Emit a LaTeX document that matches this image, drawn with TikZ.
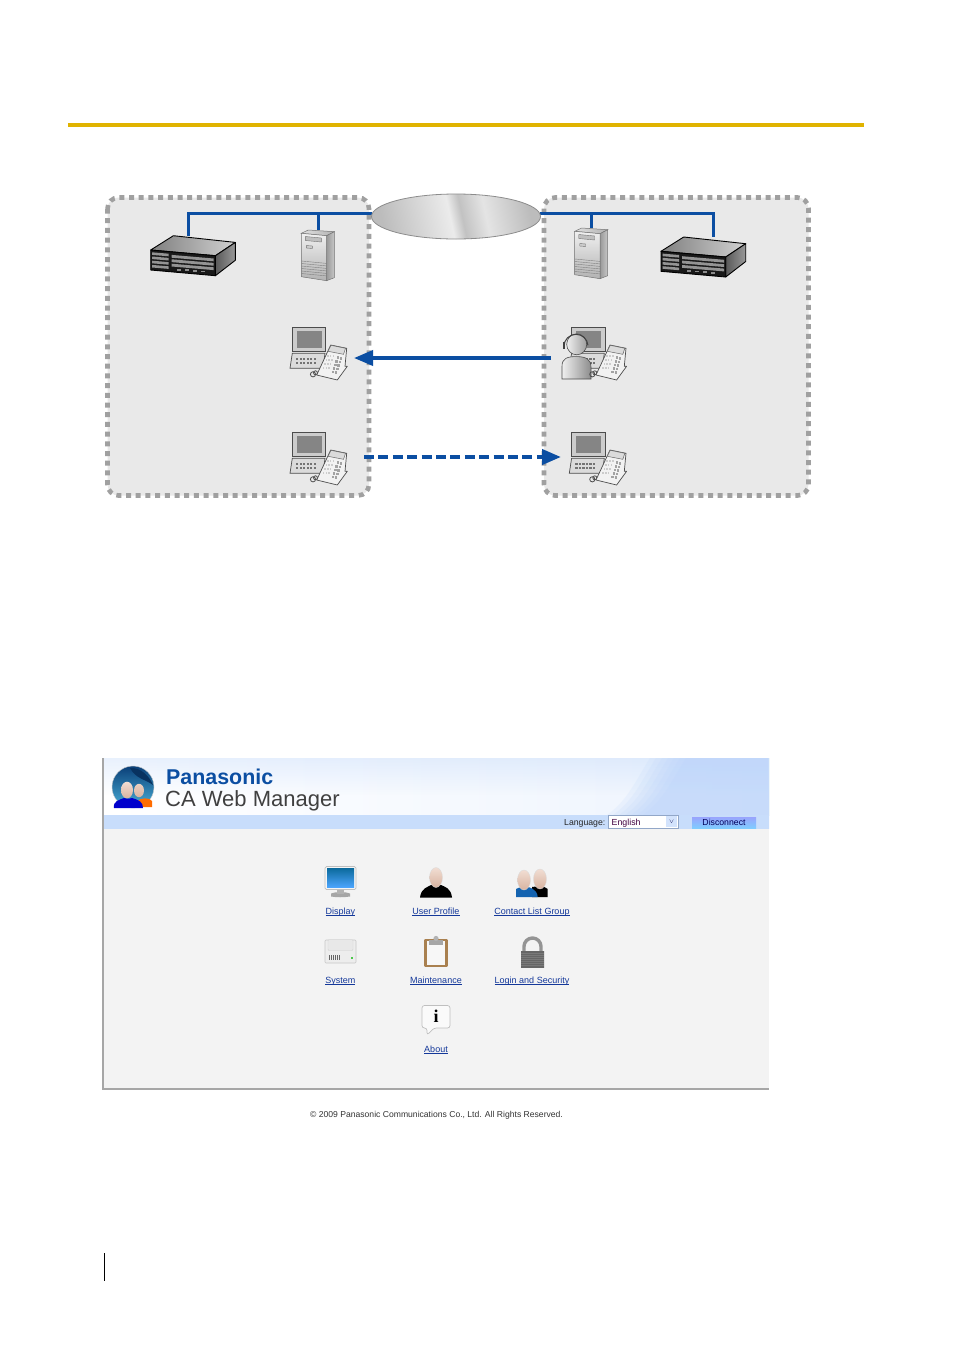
\documentclass[tikz,border=0pt]{standalone}
\usepackage{fontspec}
\setmainfont{Liberation Sans}
\newfontfamily\serifi{Liberation Serif}
\usetikzlibrary{arrows.meta,shapes.geometric,fadings}
\definecolor{gold}{HTML}{E0B300}
\definecolor{netblue}{HTML}{0B4EA2}
\definecolor{zonefill}{HTML}{E9E9E9}
\definecolor{zonedash}{HTML}{A0A0A0}
\definecolor{linkblue}{HTML}{14389A}
\definecolor{panel}{HTML}{F3F3F3}
\definecolor{headblue}{HTML}{B6D1FA}
\definecolor{skin}{HTML}{EBCFC0}
\definecolor{skindark}{HTML}{D8B3A0}
\definecolor{shirtblue}{HTML}{1463B0}
\definecolor{clipbrown}{HTML}{A9804F}
\definecolor{metalA}{HTML}{BCBCBC}
\definecolor{metalB}{HTML}{EBEBEB}
\definecolor{metalC}{HTML}{C2C2C2}
\definecolor{metalD}{HTML}{E4E4E4}
\definecolor{globetop}{HTML}{0A3F78}
\definecolor{globebot}{HTML}{4AB0D8}
\pgfdeclarehorizontalshading{wanmetal}{100bp}{color(0bp)=(metalA); color(25bp)=(metalA); color(48bp)=(metalB); color(52bp)=(metalC); color(60bp)=(metalD); color(75bp)=(metalA); color(100bp)=(metalA)}
\newcommand{\ulink}[1]{\setbox0\hbox{#1}\rlap{\rule[-1.2pt]{\wd0}{.6pt}}\box0}
\tikzset{
  x=1pt,y=-1pt,
  zonebox/.style={fill=zonefill,draw=zonedash,line width=4.6pt,rounded corners=11pt,dash pattern=on 5pt off 4.7pt},
  netline/.style={draw=netblue,line width=3pt},
  flowline/.style={draw=netblue,line width=3.4pt,-{Triangle[length=19pt,width=15pt]}},
  flowdash/.style={flowline,line width=4pt,dash pattern=on 10pt off 4.4pt},
  linklabel/.style={font=\fontsize{9}{10}\selectfont,text=linkblue,inner sep=0pt,anchor=base},
  pbxicon/.pic={
    \shade[left color=black!50,right color=black!18,draw=black,line width=.9pt,line join=round] (0,14.3)--(22.7,0)--(84.7,6.7)--(64.7,20)--cycle;
    \shade[left color=black!65,right color=black!40,draw=black,line width=.9pt,line join=round] (64.7,20)--(84.7,6.7)--(84.7,24.5)--(64.7,40)--cycle;
    \fill[black!90,draw=black,line width=.9pt,line join=round] (0,14.3)--(64.7,20)--(64.7,40)--(0,34.3)--cycle;
    \foreach \b in {16.6,20.8,25,29.2}{\fill[black!42] (1.5,\b)--(18,\b+1.4)--(18,\b+4)--(1.5,\b+2.6)--cycle;}
    \foreach \b in {19.2,23.6,28}{\fill[black!42] (21,\b)--(63,\b+3.6)--(63,\b+6.4)--(21,\b+2.8)--cycle;}
    \foreach \a in {26,34,42,50}{\fill[black!45] (\a,{33+(\a-26)*.08}) rectangle +(4,1.8);}
    \coordinate (-top) at (37.3,0);
    \coordinate (-topr) at (52,0);
  },
  servericon/.pic={
    \shade[left color=black!12,right color=black!30,draw=black!55,line width=.5pt] (0,3.3)--(7,0)--(33,1.7)--(25.3,5.7)--cycle;
    \shade[left color=black!40,right color=black!22,draw=black!55,line width=.5pt] (25.3,5.7)--(33,1.7)--(33,47.7)--(25.3,50.7)--cycle;
    \shade[top color=black!6,bottom color=black!30,draw=black!55,line width=.5pt] (0,3.3)--(25.3,5.7)--(25.3,50.7)--(0,46.7)--cycle;
    \draw[black!55,fill=black!25,line width=.4pt] (4,6.5)--(20,8)--(20,12)--(4,10.5)--cycle;
    \draw[black!55,fill=black!20,line width=.4pt] (5,15.5)--(11,16)--(11,18.5)--(5,18)--cycle;
    \foreach \b in {31,33.5,36,38.5,41,43.5}{\draw[black!50,line width=.4pt] (0,\b)--(25.3,\b+2.4);}
    \coordinate (-top) at (16.7,0);
  },
  pcbody/.pic={
    \draw[black!70,fill=black!20,line width=.7pt] (2.3,0) rectangle (35.7,24.3);
    \fill[black!48] (6.7,3.7) rectangle (31.7,21);
    \draw[black!70,fill=black!14,line width=.7pt] (2.3,26)--(0,41)--(33,41)--(35,26)--cycle;
    \foreach \a in {6,9.5,13,16.5,20,23.5}{\foreach \b in {31,35}{\fill[black!55] (\a,\b) rectangle +(2.2,2);}}
  },
  phoneicon/.pic={
    \draw[black!70,line width=.8pt] (23,47) circle[radius=2.6];
    \draw[black!70,line width=.8pt] (25.5,45.5) circle[radius=2];
    \draw[black!70,fill=black!5,line width=.7pt,line join=round] (40.7,17.7)--(56.7,21)--(55,39)--(57.3,39)--(47.3,52.7)--(26.7,47.7)--cycle;
    \draw[black!60,fill=black!14,line width=.5pt] (41,18)--(55.5,21)--(53.5,27)--(38,24)--cycle;
    \foreach \i in {0,...,4}{\fill[black!36] ({46.5-\i*1.1},{29+\i*3.6}) rectangle +(2.2,2.6);\fill[black!36] ({49.6-\i*1.1},{29.6+\i*3.6}) rectangle +(2.2,2.6);}
    \foreach \i in {0,1,2,3}{\foreach \j in {0,1,2}{\fill[black!20] ({37+\j*2.8-\i*1.4},{28+\i*4}) rectangle +(1.6,1.8);}}
  },
  pcicon/.pic={\pic {pcbody}; \pic {phoneicon};},
  agenticon/.pic={
    \pic {pcbody};
    \shade[left color=black!6,right color=black!45,draw=black!70,line width=.6pt] (-7.3,51.7)--(-7.3,39) .. controls (-7.3,31) and (-2,29.3) .. (7,29.3) .. controls (17,29.3) and (21.7,32) .. (21.7,40)--(21.7,51.7)--cycle;
    \shade[left color=black!6,right color=black!38,draw=black!70,line width=.6pt] (7.4,17) ellipse[x radius=10,y radius=10.5];
    \draw[black!75,line width=1pt] (-5.3,19) arc[start angle=180,end angle=355,radius=12];
    \draw[black!75,line width=1.4pt] (-5.3,15) -- (-5.3,22);
    \pic {phoneicon};
  },
  headlogo/.pic={
    \shade[top color=globetop,bottom color=globebot,draw=black!20] (0,0) circle[radius=21];
    \fill[globetop!80!black] (-3,-19) .. controls (8,-20) and (17,-10) .. (20,-2) .. controls (12,-8) and (3,-8) .. (-3,-19);
    \fill[orange!85!red] (5,20)--(5,14) .. controls (6,11) and (17,10) .. (19,14)--(19,20)--cycle;
    \shade[top color=skin,bottom color=skindark] (6,3.5) ellipse[x radius=5,y radius=6.7];
    \fill[blue!80!black] (-19,21) .. controls (-20,14) and (-14,13) .. (-9,11) .. controls (-5,12) and (-3,12) .. (-1,11) .. controls (6,13) and (10,15) .. (10,21)--cycle;
    \shade[top color=skin!70!white,bottom color=skindark] (-6,3) ellipse[x radius=6,y radius=8.3];
  },
  monitoricon/.pic={
    \shade[left color=black!35,middle color=black!8,right color=black!35] (6,27) .. controls (11,25) and (20,25) .. (25,27)--(25,30) .. controls (18,31) and (12,31) .. (6,30)--cycle;
    \fill[black!30] (12,22) rectangle (19,27);
    \draw[black!25,fill=black!4,line width=.7pt,rounded corners=1.5pt] (0,0) rectangle (31,23);
    \shade[top color=blue!35!cyan!60!black!95,bottom color=cyan!50!blue!70] (2,2) rectangle (29,21);
  },
  bustsingle/.pic={
    \shade[top color=skin!70!white,bottom color=skindark,draw=black!15,line width=.3pt] (0,0) ellipse[x radius=6.5,y radius=10];
  },
  clipicon/.pic={
    \draw[clipbrown,fill=black!3,line width=2.6pt,line join=round] (1.5,3.5) rectangle (22.5,29.5);
    \fill[black!35] (5,3.5) rectangle (19,8);
    \fill[black!30] (12,2) circle[radius=2.6];
  },
  lockicon/.pic={
    \draw[black!42,line width=3.4pt] (3,15.5) -- (3,10.5) arc[start angle=180,end angle=360,radius=8.5] -- (20,15.5);
    \shade[left color=black!60,middle color=black!22,right color=black!60] (0,15) rectangle (23,31);
    \foreach \b in {17,19,...,29}{\draw[black!45,opacity=.5,line width=.5pt] (0,\b)--(23,\b);}
  },
  sysicon/.pic={
    \draw[black!22,fill=black!7,line width=.6pt,rounded corners=1pt] (0,0) rectangle (31,23);
    \draw[black!18,fill=black!9,line width=.4pt,rounded corners=1pt] (3,-0.3) rectangle (28,10.5);
    \foreach \a in {3.5,5.5,7.5,9.5,11.5,13.5}{\fill[black!60] (\a,15) rectangle +(1,5);}
    \fill[green!70!black!70] (25.5,17) rectangle +(2,2);
  },
  infoicon/.pic={
    \draw[black!25,fill=black!2,line width=.7pt,rounded corners=2.5pt] (0,1)--(28,1)--(28,23.5)--(12,23.5)--(5,30.5)--(5,23.5)--(0,23.5)--cycle;
    \node[inner sep=0pt,font=\fontsize{18}{18}\selectfont\bfseries\serifi] (-i) at (14,11.5) {i};
  },
}
\begin{document}
\begin{tikzpicture}
\useasboundingbox (0,0) rectangle (954,1350);
\fill[white] (0,0) rectangle (954,1350);
% top rule and page bar
\coordinate (ruleA) at (68,125); \coordinate (ruleB) at (863.5,125);
\draw[gold,line width=3.6pt] (ruleA)--(ruleB);
\coordinate (barA) at (104.5,1253); \coordinate (barB) at (104.5,1281);
\draw[black,line width=1pt] (barA)--(barB);
% zones
\path[zonebox] (107.5,197.5) rectangle (369,495.5);
\path[zonebox] (544,197.5) rectangle (808.5,495.5);
% icons
\pic (pbxL) at (150.7,235.7) {pbxicon};
\pic (srvL) at (301.3,230) {servericon};
\pic (srvR) at (574.7,228) {servericon};
\pic (pbxR) at (661,237) {pbxicon};
\pic (pcA) at (290,327.3) {pcicon};
\pic (pcB) at (290,432.3) {pcicon};
\pic (pcC) at (569.3,327.3) {agenticon};
\pic (pcD) at (569.3,432.3) {pcicon};
% network
\coordinate (busL) at (372,213); \coordinate (busR) at (540,213);
\draw[netline] (busL) -| (pbxL-top);
\draw[netline] (srvL-top |- busL) -- (srvL-top);
\draw[netline] (busR) -| (pbxR-topr);
\draw[netline] (srvR-top |- busR) -- (srvR-top);
\shade[shading=wanmetal,shading angle=12] (456,216.5) ellipse[x radius=84.5,y radius=22.5];
\node[ellipse,minimum width=169pt,minimum height=45pt,inner sep=0pt,draw=black!45,line width=.8pt] (wan) at (456,216.5) {};
% flows
\coordinate (flowAstart) at (551,358); \coordinate (flowAend) at (354,358);
\draw[flowline] (flowAstart)--(flowAend);
\coordinate (flowBstart) at (364,457); \coordinate (flowBend) at (561,457);
\draw[flowdash] (flowBstart)--(flowBend);
% screenshot
\fill[panel] (102,828) rectangle (769,1089);
\shade[left color=white,right color=headblue!25!white] (102,758) rectangle (769,815);
\fill[headblue,opacity=.3,path fading=south] (102,758) rectangle (769,795);
\foreach \s in {0,6,...,36}{
  \fill[headblue,opacity=.14] (650+\s,758) .. controls (636+\s,780) and (628+\s,800) .. (607+\s,815)--(769,815)--(769,758)--cycle;
}
\shade[top color=headblue!75!white,middle color=headblue!12!white,bottom color=headblue!75!white] (102,815) rectangle (769,828);
\draw[black!35,line width=2pt] (102.5,758)--(102.5,1090);
\draw[black!35,line width=1.6pt] (102,1089)--(769,1089);
\pic (logo) at (133,787) {headlogo};
\node[anchor=base west,inner sep=0pt,font=\fontsize{21.4}{22}\selectfont\bfseries,text=netblue] (brand) at (166,784.5) {Panasonic};
\node[anchor=base west,inner sep=0pt,font=\fontsize{22}{24}\selectfont,text=black!75] (product) at (165,806) {CA Web Manager};
\node[anchor=base east,inner sep=0pt,font=\fontsize{8.7}{10}\selectfont,text=black!85] (lang) at (605.5,825) {Language:};
\node[anchor=north west,draw=headblue!80!black,fill=white,line width=.5pt,minimum width=70pt,minimum height=13pt,inner sep=0pt] (langbox) at (608,815) {};
\node[anchor=base west,inner sep=0pt,font=\fontsize{8.8}{10}\selectfont,text=violet!50!black] (english) at (611.5,825) {English};
\node[anchor=north west,fill=headblue!60!white,minimum width=11pt,minimum height=11pt,inner sep=0pt,font=\fontsize{6}{6}\selectfont\bfseries,text=blue!30!black] (langarrow) at (666,816) {$\vee$};
\shade[top color=headblue!60!blue!70,bottom color=blue!40!cyan!50] (692,817) rectangle (756,828);
\node[inner sep=0pt,font=\fontsize{8.7}{10}\selectfont,text=blue!35!black] (disc) at (724,822.5) {Disconnect};
% web icons
\pic (icoDisplay) at (325,866.5) {monitoricon};
\node[linklabel] (lDisplay) at (340.3,914) {\ulink{Display}};
% user profile
\fill[black] (420,897.5) .. controls (421,888) and (428,887) .. (431,885)--(441,885) .. controls (445,887) and (451,888) .. (452,897.5)--cycle;
\pic (headUser) at (436,877.5) {bustsingle};
\node[linklabel] (lUser) at (436,914) {\ulink{User Profile}};
% contact group
\fill[black] (532,897) -- (532,887) .. controls (537,886) and (545,886) .. (547.7,889)--(547.7,897)--cycle;
\pic (headC2) at (540,879) {bustsingle};
\fill[shirtblue] (516,897)--(516,889) .. controls (519,887) and (522,887) .. (524,886) .. controls (530,887) and (537,889) .. (537.7,897)--cycle;
\pic (headC1) at (524,880) {bustsingle};
\node[linklabel] (lContact) at (532,914) {\ulink{Contact List Group}};
\pic (icoSystem) at (325,940) {sysicon};
\node[linklabel] (lSystem) at (340.3,983) {\ulink{System}};
\pic (icoMaint) at (424,936.5) {clipicon};
\node[linklabel] (lMaint) at (436,983) {\ulink{Maintenance}};
\pic (icoLock) at (521,936) {lockicon};
\node[linklabel] (lLogin) at (532,983) {\ulink{Login and Security}};
\pic (icoAbout) at (422,1004.5) {infoicon};
\node[linklabel] (lAbout) at (436,1052) {\ulink{About}};
\node[inner sep=0pt,font=\fontsize{8.6}{10}\selectfont,text=black!80] (copy) at (436.5,1115) {© 2009 Panasonic Communications Co., Ltd. All Rights Reserved.};
\end{tikzpicture}
\end{document}
